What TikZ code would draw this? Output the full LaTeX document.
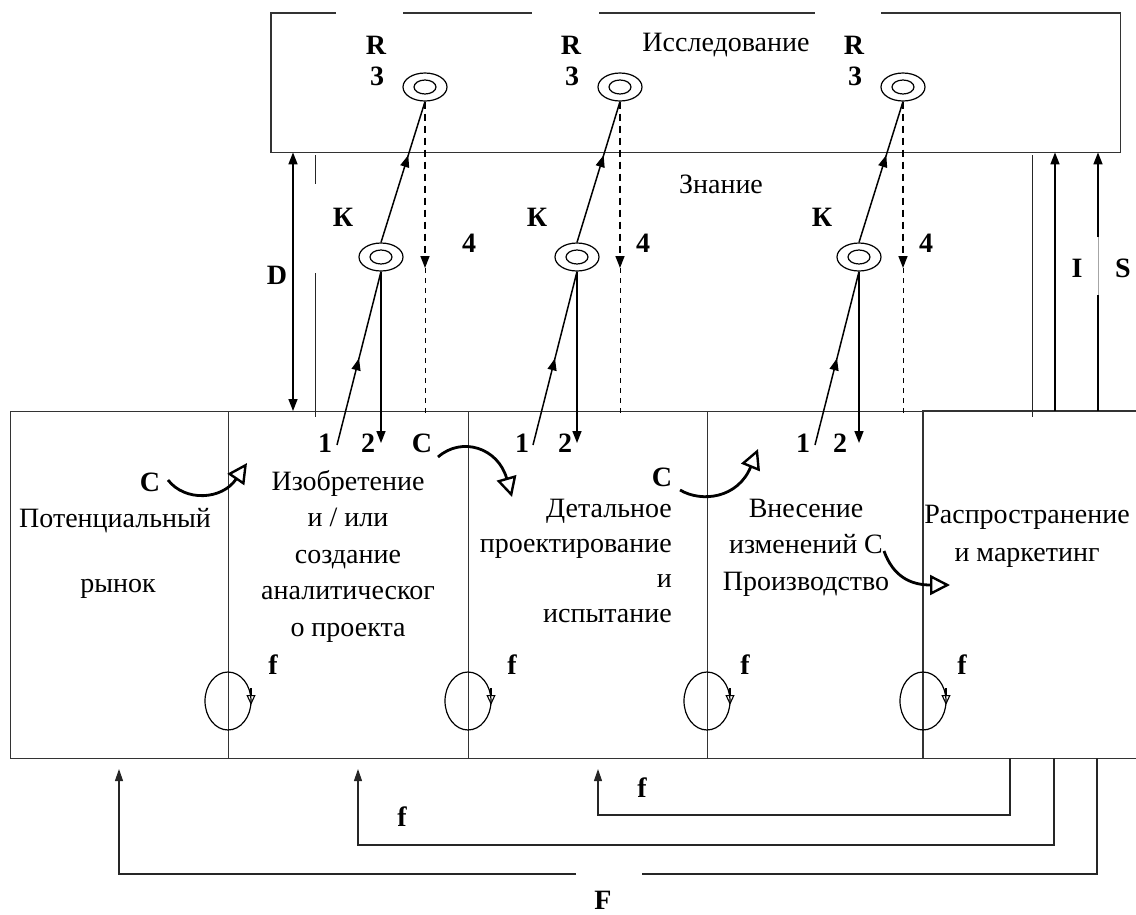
\documentclass[tikz,border=0pt]{standalone}
\usepackage{fontspec}
\setmainfont{Liberation Serif}
\usetikzlibrary{arrows.meta,shapes.geometric,decorations.markings,calc}
\begin{document}
\begin{tikzpicture}[x=1pt,y=-1pt,
  frame/.style={draw=black!80, line width=1.1pt},
  thinln/.style={draw=black!85, line width=0.9pt},
  arr/.style={draw=black, line width=1.6pt, -{Triangle[length=12pt,width=9pt]}},
  fb/.style={draw=black!85, line width=1.2pt, -{Triangle[length=12pt,width=8pt]}},
  lbl/.style={font=\fontsize{28}{32}\selectfont\bfseries, inner sep=0pt},
  txt/.style={font=\fontsize{28}{36.5}\selectfont, inner sep=0pt, anchor=base},
  ring/.style={ellipse, draw=black, line width=1.2pt, minimum width=44pt, minimum height=28pt, inner sep=0pt},
  iring/.style={ellipse, draw=black, line width=1.2pt, minimum width=22pt, minimum height=14pt, inner sep=0pt},
  carrow/.style={draw=black, line width=2.8pt, -{Triangle[open, length=20pt, width=20pt, line width=2.4pt]}},
  loopar/.style={draw=black, line width=1.1pt, -{Triangle[open,length=10pt,width=9pt]}},
  midarr/.style={postaction={decorate}, decoration={markings, mark=at position #1 with {\arrow{Triangle[length=12pt,width=9pt]}}}},
  dashthick/.style={draw=black, line width=1.5pt, dash pattern=on 7pt off 5pt},
  dashthin/.style={draw=black, line width=1pt, dash pattern=on 5pt off 5pt},
]
\useasboundingbox (0,0) rectangle (1136,914);

% ---------- top box (Research) ----------
\node[minimum width=849pt, minimum height=139pt, anchor=north west, inner sep=0pt] (res) at (271,13) {};
\draw[frame] ($(res.north west)+(65,0)$) -- (res.north west) -- (res.south west) -- (res.south east) -- (res.north east) -- ($(res.north west)+(610,0)$);
\draw[frame] ($(res.north west)+(132,0)$) -- ($(res.north west)+(261,0)$);
\draw[frame] ($(res.north west)+(328,0)$) -- ($(res.north west)+(544,0)$);
\node[txt] (issl) at (726,51) {Исследование};
\node[txt] (zn) at (721,193) {Знание};

% ---------- bottom cells ----------
\node[frame, minimum width=218pt, minimum height=347pt, anchor=north west, inner sep=0pt] (cell1) at (10,411) {};
\node[frame, minimum width=240pt, minimum height=347pt, anchor=north west, inner sep=0pt] (cell2) at (228,411) {};
\node[frame, minimum width=239pt, minimum height=347pt, anchor=north west, inner sep=0pt] (cell3) at (468,411) {};
\node[frame, minimum width=216pt, minimum height=347pt, anchor=north west, inner sep=0pt] (cell4) at (707,411) {};
\node[minimum width=213pt, minimum height=347pt, anchor=north west, inner sep=0pt] (cell5) at (923,411) {};
\draw[frame] (cell5.north east) -- (cell5.north west) -- (cell5.south west) -- (cell5.south east);

\node[txt] (pm1) at (115,527) {Потенциальный};
\node[txt] (pm2) at (118,592) {рынок};
\node[txt, align=center] (inv) at (348,636) {Изобретение\\и / или\\создание\\аналитическог\\о проекта};
\node[txt, align=right, anchor=base east, font=\fontsize{28}{35}\selectfont] (det) at (672,622) {Детальное\\проектирование\\и\\испытание};
\node[txt, align=center] (chg) at (806,590) {Внесение\\изменений С\\Производство};
\node[txt, align=center, font=\fontsize{28}{38}\selectfont] (dist) at (1027,561) {Распространение\\и маркетинг};

% ---------- knowledge groups ----------
\foreach \i/\mx/\tx/\lx/\kx/\fx/\ox/\twx in {1/381/425/337/343/469/325/368, 2/577/620/533/537/643/522/565, 3/859/903/815/822/926/803/840}{
  \node[ring] (t\i) at (\tx,87) {};
  \node[iring] (ti\i) at (t\i.center) {};
  \node[ring] (m\i) at (\mx,257) {};
  \node[iring] (mi\i) at (m\i.center) {};
  \coordinate (lo\i) at (\lx,445);
  \coordinate (dn\i) at (\mx,443);
  \coordinate (da\i) at (\tx,268);
  \coordinate (db\i) at (\tx,417);
  \draw[line width=1.5pt, midarr=0.5] (lo\i) -- (m\i.south);
  \draw[line width=1.5pt, midarr=0.62] (m\i.north) -- (t\i.south);
  \draw[arr] (m\i.south) -- (dn\i);
  \draw[dashthick, -{Triangle[length=12pt,width=9pt]}] (t\i.south) -- (da\i);
  \draw[dashthin] (da\i) -- (db\i);
  \node[lbl] (R\i) at (\tx-49,45) {R};
  \node[lbl] (r\i) at (\tx-48,76) {3};
  \node[lbl] (K\i) at (\kx,217) {К};
  \node[lbl] (q\i) at (\fx,243) {4};
  \node[lbl] (o\i) at (\ox,443) {1};
  \node[lbl] (w\i) at (\twx,443) {2};
}

% ---------- D, I, S ----------
\draw[line width=1.6pt, {Triangle[length=12pt,width=9pt]}-{Triangle[length=12pt,width=9pt]}] ($(res.south west)+(22,0)$) -- ($(cell2.north west)+(65,0)$);
\node[lbl] (D) at (277,275) {D};
\draw[thinln] (315,155) -- (315,184);
\draw[thinln] (315,273) -- (315,417);
\draw[thinln] (1032,155) -- (1032,417);
\draw[arr] ($(cell5.north west)+(132,0)$) -- ($(res.south west)+(784,0)$);
\node[lbl] (I) at (1077,268) {I};
\draw[line width=1.6pt] ($(cell5.north west)+(175,0)$) -- (1098,295);
\draw[line width=0.6pt, draw=black!35] (1098,295) -- (1098,237);
\draw[arr] (1098,237) -- ($(res.south west)+(827,0)$);
\node[lbl] (S) at (1123,268) {S};

% ---------- C arrows ----------
\node[lbl] (C1) at (150,482) {C};
\node[lbl] (C2) at (422,443) {C};
\node[lbl] (C3) at (662,477) {C};
\draw[carrow] (168,480) .. controls (185,502) and (222,500) .. (247,463);
\draw[carrow] (438,457) .. controls (462,436) and (498,448) .. (512,497);
\draw[carrow] (680,490) .. controls (702,503) and (738,498) .. (758,449);
\draw[carrow] (884,551) .. controls (893,576) and (910,585) .. (950,585);

% ---------- loops f ----------
\foreach \j/\x/\fxx in {1/228/273, 2/468/512, 3/707/745, 4/923/962}{
  \draw[draw=black, line width=1.2pt] (\x,701) ellipse [x radius=23, y radius=29];
  \draw[loopar] (\x+23,688) -- (\x+23,705);
  \node[lbl] (f\j) at (\fxx,665) {f};
}

% ---------- feedback lines ----------
\coordinate (s1) at (1010,758);
\coordinate (s2) at (1054,758);
\coordinate (s3) at (1097,758);
\coordinate (e1) at (598,769);
\coordinate (e2) at (358,769);
\coordinate (e3) at (119,769);
\draw[fb] (s1) -- (1010,815) -| (e1);
\draw[fb] (s2) -- (1054,845) -| (e2);
\draw[draw=black!85, line width=1.2pt] (s3) |- (642,874);
\draw[fb] (576,874) -| (e3);
\node[lbl] (fb1) at (642,788) {f};
\node[lbl] (fb2) at (402,817) {f};
\node[lbl] (F) at (603,900) {F};
\end{tikzpicture}
\end{document}
